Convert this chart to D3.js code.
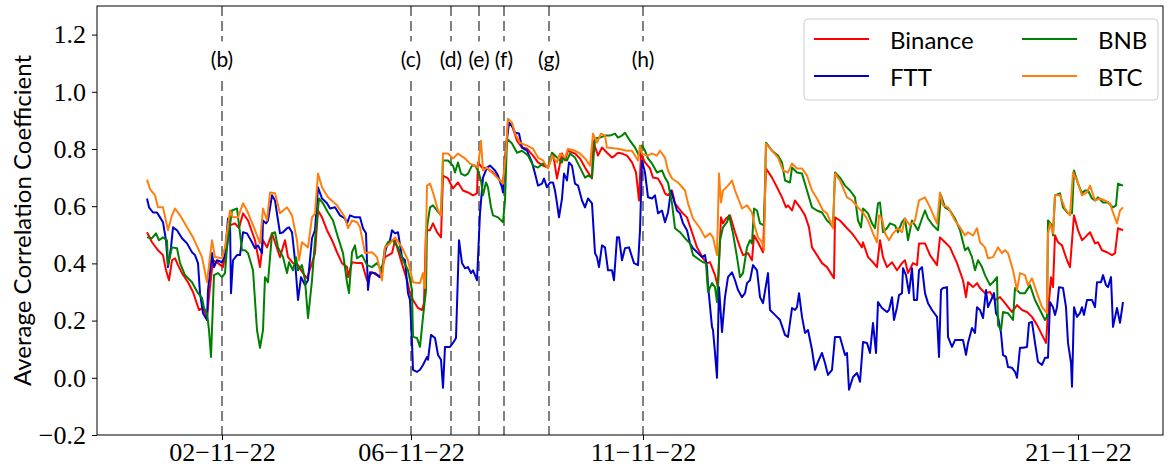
<!DOCTYPE html>
<html>
<head>
<meta charset="utf-8">
<script src="https://cdn.jsdelivr.net/npm/d3@7"></script>
<style>
  body { margin: 0; background: #fff; }
  svg { display: block; }
</style>
</head>
<body>
<div id="chart"></div>
<script>
// x is the hourly sample index (t = 0 is the first sample)
const tickIdx = [37.5, 132, 248, 465.5];
const tickLabels = ["02\u221211\u221222", "06\u221211\u221222", "11\u221211\u221222", "21\u221211\u221222"];
const eventIdx = [37.5, 132, 152, 166, 178.5, 201, 248];
const eventLabels = ["(b)", "(c)", "(d)", "(e)", "(f)", "(g)", "(h)"];
const yTicks = [-0.2, 0, 0.2, 0.4, 0.6, 0.8, 1.0, 1.2];
const seriesNames = ["Binance", "FTT", "BNB", "BTC"];

const binance = [[0,.509],[2.5,.474],[5.5,.446],[8,.429],[9.5,.376],[11,.341],[12.5,.411],[14,.418],[15.5,.394],[17.5,.366],[20.5,.334],[23,.3],[26,.237],[28,.244],[30,.213],[31.5,.317],[33,.411],[35.5,.401],[38,.387],[39.5,.439],[41.5,.533],[44,.54],[46,.523],[48,.575],[50.5,.55],[54,.481],[56.5,.387],[58,.481],[60,.456],[62.5,.505],[65,.453],[66.5,.422],[69,.481],[70.5,.422],[73,.401],[75.5,.394],[78,.366],[80,.348],[82.5,.401],[84,.436],[85.5,.585],[87.5,.561],[90,.516],[92.5,.481],[95,.439],[97.5,.401],[100,.387],[100.5,.352],[102.5,.404],[105,.401],[107.5,.401],[110,.341],[112.5,.369],[116.5,.352],[119,.422],[122.5,.436],[124,.481],[126.5,.422],[130,.341],[131.5,.296],[133,.272],[135.5,.244],[137.5,.237],[138.5,.261],[139.5,.516],[141.5,.516],[143,.54],[145,.509],[147,.491],[148,.707],[150.5,.697],[153,.662],[155.5,.683],[158,.655],[160.5,.648],[163,.638],[165,.645],[165.5,.753],[167.5,.735],[170,.732],[173,.718],[176.5,.69],[178,.683],[179.5,.794],[180.5,.892],[182.5,.882],[185,.829],[187.5,.805],[190,.801],[193,.777],[195.5,.753],[198,.742],[200.5,.735],[203,.784],[205,.697],[207.5,.784],[209,.76],[210.5,.794],[214,.784],[216.5,.767],[219,.735],[222.5,.697],[223,.829],[225.5,.777],[227.5,.805],[230,.787],[232.5,.77],[234,.777],[235.5,.787],[237.5,.784],[240,.777],[242.5,.753],[244.5,.718],[246,.62],[247,.784],[249,.753],[251.5,.732],[253,.7],[255.5,.697],[257.5,.672],[259,.645],[260.5,.638],[262.5,.655],[264,.61],[267.5,.578],[270,.561],[272.5,.509],[275,.456],[278,.418],[280,.401],[281.5,.404],[284,.359],[285.5,.317],[287,.561],[288,.54],[289.5,.557],[291.5,.568],[294,.509],[296.5,.456],[298,.429],[300.5,.436],[302.5,.411],[303.5,.498],[305.5,.474],[308,.439],[309.5,.732],[312.5,.7],[315,.666],[317.5,.631],[319.5,.596],[320.5,.603],[322.5,.585],[324,.62],[326.5,.596],[329,.568],[331,.526],[332.5,.456],[335,.429],[337.5,.401],[340,.387],[342.5,.359],[343.5,.348],[344,.561],[346.5,.55],[350,.523],[352.5,.505],[355,.481],[357.5,.456],[358,.474],[360.5,.422],[363,.404],[365,.387],[366.5,.481],[368,.422],[370,.387],[372.5,.404],[375,.376],[377.5,.401],[379,.411],[380.5,.366],[383,.401],[385,.394],[386,.47],[389,.47],[391.5,.429],[395,.394],[396.5,.491],[399,.474],[401.5,.456],[405,.401],[408,.341],[409.5,.282],[410.5,.334],[413,.317],[415,.331],[416.5,.314],[419,.296],[421.5,.3],[424,.272],[426.5,.282],[429,.261],[432.5,.23],[435,.254],[437.5,.237],[440,.23],[442.5,.213],[445,.185],[447.5,.15],[449.5,.122],[450.5,.226],[452,.352],[453,.317],[454,.498],[455.5,.474],[457.5,.463],[460,.411],[461.5,.387],[463.5,.568],[465.5,.516],[467.5,.481],[469,.491],[471.5,.509],[474,.47],[475.5,.474],[477.5,.446],[480,.439],[482.5,.429],[484,.436],[485.5,.523],[488,.516]];

const ftt = [[0,.627],[1,.596],[3,.578],[5,.578],[6.5,.561],[8,.544],[9.5,.481],[10.5,.387],[12,.456],[13,.526],[15,.516],[17.5,.488],[20,.47],[22.5,.439],[24,.429],[25.5,.401],[26.5,.296],[28,.226],[30,.202],[30.5,.307],[32.5,.436],[33.5,.387],[35,.411],[37.5,.404],[39,.429],[40.5,.557],[41.5,.55],[42,.296],[43,.411],[45,.429],[46.5,.429],[48,.509],[50,.505],[52.5,.474],[54,.453],[55.5,.463],[57.5,.436],[58,.55],[59.5,.54],[60.5,.55],[62.5,.638],[64,.62],[66.5,.505],[68,.509],[70,.523],[71,.526],[72.5,.509],[74,.411],[75.5,.272],[77,.352],[79,.324],[80.5,.341],[82.5,.488],[84,.516],[85.5,.666],[87.5,.627],[90,.61],[91.5,.592],[94,.596],[96.5,.568],[99,.557],[100,.54],[101.5,.568],[104,.561],[106.5,.561],[108,.523],[109.5,.505],[110.5,.307],[111.5,.369],[114,.366],[116.5,.352],[118,.401],[119.5,.453],[121.5,.481],[122.5,.516],[124,.505],[125.5,.509],[127.5,.422],[129,.411],[130.5,.296],[131.5,.272],[132.5,.122],[133,.028],[135,.021],[136.5,.028],[138,.045],[140,.073],[140.5,.063],[142,.15],[144,.139],[145.5,.08],[147,.063],[148,-.035],[149,.108],[151.5,.108],[153,.122],[154.5,.139],[156,.481],[157.5,.401],[159,.383],[160.5,.387],[162,.366],[163,.376],[164,.359],[165,.341],[166.5,.575],[168,.7],[170,.735],[171.5,.742],[174,.725],[175.5,.707],[177.5,.666],[178,.648],[179.5,.805],[181,.892],[183,.875],[184,.857],[186,.854],[187.5,.805],[190,.794],[192.5,.753],[194,.714],[195.5,.672],[197.5,.679],[198.5,.697],[200,.666],[201.5,.683],[203,.683],[204,.655],[205,.61],[206,.561],[207.5,.627],[208.5,.714],[210,.69],[211,.753],[212.5,.742],[214,.679],[215.5,.672],[217.5,.62],[219,.596],[220.5,.627],[222.5,.61],[224,.436],[225,.422],[226,.387],[227.5,.463],[229,.456],[230.5,.376],[232.5,.376],[233.5,.341],[235,.491],[236,.491],[237.5,.411],[239,.453],[241,.456],[243.5,.401],[245.5,.394],[246.5,.516],[247.5,.76],[249,.718],[250.5,.631],[252.5,.627],[254,.638],[255.5,.575],[257.5,.585],[259,.544],[260.5,.578],[262,.655],[263,.631],[265,.585],[266.5,.575],[268,.54],[270,.516],[271.5,.47],[273,.453],[275.5,.436],[277.5,.422],[279,.429],[280,.387],[280.5,.324],[282.5,.178],[283,.167],[284,.087],[285,0],[286,.317],[287.5,.16],[289,.282],[290.5,.352],[292.5,.369],[294,.341],[295.5,.307],[297.5,.282],[299,.296],[300,.331],[301.5,.341],[303,.394],[305,.376],[306.5,.282],[308,.261],[310.5,.366],[311.5,.237],[314,.22],[316.5,.202],[319,.15],[320.5,.143],[322.5,.244],[324,.237],[325,.247],[326,.296],[327.5,.213],[329,.157],[330.5,.167],[332.5,.098],[334,.028],[335.5,.056],[337.5,.087],[339,.052],[340.5,.01],[342.5,.028],[344,.143],[346.5,.143],[349,.08],[350,.087],[351,-.042],[353,.003],[355,.017],[356.5,-.014],[358,.125],[360,.122],[361.5,.087],[363,.192],[364.5,.087],[365.5,.265],[367.5,.244],[370,.23],[371,.237],[372.5,.282],[373.5,.202],[375,.247],[376,.289],[377.5,.296],[378,.383],[379.5,.359],[381,.296],[382.5,.383],[383.5,.272],[385,.272],[386,.376],[387.5,.387],[389,.296],[390.5,.261],[392.5,.237],[395,.213],[396,.073],[397,.307],[398,.314],[400,.317],[400.5,.143],[402.5,.108],[404,.132],[406.5,.132],[408,.132],[409.5,.08],[410.5,.122],[412.5,.174],[414,.157],[415,.247],[416.5,.237],[418,.209],[419.5,.307],[420.5,.247],[422.5,.279],[423.5,.296],[424.5,.226],[425.5,.213],[427,.157],[428,.08],[429.5,.073],[430.5,.038],[432.5,.035],[434,.021],[435,0],[436.5,.105],[438,.105],[440,.108],[441,.192],[442.5,.195],[444,.122],[445.5,.056],[447.5,.045],[449,.07],[450.5,.07],[451.5,.265],[453,.247],[454,.22],[455,.247],[456,.317],[458,.314],[459.5,.247],[460.5,.122],[462,.052],[462.5,-.031],[463.5,.247],[465,.213],[466.5,.226],[467.5,.247],[468.5,.22],[470,.272],[472.5,.272],[474,.247],[475,.334],[477,.334],[478,.359],[479.5,.324],[480.5,.317],[482,.352],[483,.178],[485,.244],[486.5,.192],[488,.265]];

const bnb = [[0,.491],[2.5,.488],[4.5,.505],[6,.481],[8,.491],[10,.481],[10.5,.394],[12.5,.456],[15,.453],[16.5,.401],[19,.359],[22.5,.334],[25.5,.296],[27.5,.279],[28.5,.244],[30,.226],[31,.167],[32,.073],[33.5,.359],[35.5,.366],[37.5,.352],[39,.366],[40,.456],[42.5,.585],[45,.592],[46.5,.505],[47.5,.446],[49,.446],[50.5,.436],[53,.376],[55,.167],[56.5,.105],[58,.167],[59,.352],[60.5,.334],[62.5,.505],[64,.509],[65.5,.456],[67.5,.429],[68,.422],[70,.366],[71,.404],[73,.376],[74.5,.422],[75.5,.376],[77.5,.394],[79,.341],[80.5,.209],[82.5,.341],[84,.481],[86,.627],[88,.61],[90.5,.578],[93,.55],[95.5,.491],[98,.436],[100,.334],[101,.296],[102.5,.439],[104,.463],[105,.418],[107.5,.429],[110,.394],[112.5,.387],[115,.401],[117.5,.376],[119,.456],[120.5,.474],[123,.481],[125.5,.456],[128,.411],[130.5,.376],[132.5,.307],[133,.143],[135,.139],[136.5,.108],[138,.213],[139.5,.307],[140,.526],[141.5,.596],[143,.603],[145,.585],[147,.568],[148,.76],[150.5,.76],[153,.742],[154,.718],[155.5,.753],[157,.714],[159,.707],[160.5,.714],[162.5,.742],[164,.742],[165.5,.725],[167,.69],[168,.638],[169.5,.683],[170.5,.666],[172,.596],[173,.568],[175.5,.561],[178,.544],[179,.62],[180,.836],[182.5,.819],[185,.787],[187.5,.794],[190.5,.777],[193,.742],[195.5,.735],[198,.749],[200.5,.735],[202.5,.787],[205,.77],[207.5,.753],[208,.77],[210,.76],[211.5,.784],[214,.77],[216.5,.735],[219,.7],[220.5,.707],[222.5,.7],[224,.836],[226.5,.84],[229,.847],[231.5,.847],[234,.854],[235.5,.84],[237.5,.847],[239,.857],[241.5,.829],[244,.805],[246,.777],[247.5,.812],[249,.794],[250.5,.767],[252.5,.749],[255,.718],[257.5,.725],[259,.7],[260.5,.683],[262.5,.61],[264,.523],[266.5,.509],[269,.488],[271.5,.47],[273,.429],[276.5,.411],[278,.404],[279.5,.401],[280.5,.3],[282.5,.331],[284,.317],[285,.265],[286.5,.481],[288,.526],[290,.544],[291,.568],[293,.505],[295,.422],[296.5,.352],[298,.366],[300,.456],[301.5,.481],[302.5,.47],[303.5,.592],[305,.585],[306.5,.54],[308.5,.533],[309.5,.822],[312.5,.794],[315.5,.777],[317.5,.753],[319,.69],[321.5,.683],[322.5,.735],[325,.718],[327.5,.714],[330,.655],[332.5,.596],[335,.585],[337.5,.578],[340,.55],[341.5,.54],[343,.526],[344,.718],[346.5,.7],[349,.672],[351.5,.655],[354,.631],[355.5,.55],[357,.526],[358,.592],[360.5,.575],[362.5,.54],[364,.523],[365.5,.61],[366.5,.613],[368,.509],[370,.523],[371.5,.54],[374,.533],[375.5,.509],[377.5,.544],[379,.557],[380.5,.481],[382.5,.55],[384,.533],[385.5,.516],[387.5,.557],[389,.585],[390.5,.557],[393,.533],[395.5,.516],[397,.638],[399,.596],[401.5,.585],[404,.557],[406.5,.516],[409,.446],[410.5,.456],[412.5,.422],[414,.376],[415.5,.411],[417.5,.387],[419,.359],[421.5,.324],[423,.334],[425,.352],[425.5,.185],[427,.167],[428,.23],[430.5,.226],[433,.202],[434,.314],[436.5,.296],[439,.296],[441.5,.324],[444,.272],[446.5,.237],[449,.202],[450,.213],[450.5,.55],[452.5,.533],[453,.498],[454,.638],[456.5,.645],[458,.596],[460.5,.575],[462.5,.575],[463.5,.725],[465.5,.679],[467.5,.645],[469,.655],[470.5,.655],[472.5,.627],[474,.62],[475.5,.631],[478,.613],[480.5,.613],[483,.596],[484.5,.603],[485.5,.679],[488,.672]];

const btc = [[0,.693],[1.5,.66],[4,.638],[5.5,.596],[8,.596],[10.5,.516],[12.5,.568],[14,.592],[16.5,.568],[20,.526],[23,.491],[27.5,.422],[30,.334],[32.5,.481],[34,.422],[37.5,.418],[39,.456],[41.5,.585],[43,.561],[45.5,.561],[48,.61],[50,.585],[54,.516],[56.5,.47],[58,.592],[60,.55],[61.5,.648],[64,.645],[66.5,.575],[70,.596],[72.5,.568],[75,.481],[76,.411],[77.5,.474],[80.5,.456],[82.5,.561],[84,.575],[85.5,.714],[87.5,.666],[90.5,.631],[95,.603],[99,.561],[100.5,.523],[102.5,.55],[105,.544],[106.5,.526],[109,.436],[112.5,.439],[115,.422],[117.5,.341],[119,.456],[121.5,.47],[124,.491],[127.5,.456],[130.5,.411],[133,.334],[136.5,.331],[138,.366],[139,.314],[140,.672],[141.5,.679],[143,.648],[145.5,.585],[147,.568],[148,.784],[150.5,.784],[153,.767],[155.5,.784],[159,.767],[161.5,.749],[164,.742],[165.5,.735],[167,.829],[168,.725],[170,.735],[173,.714],[176.5,.69],[178,.679],[179.5,.794],[180.5,.906],[182.5,.892],[184,.854],[186.5,.822],[190,.812],[193,.801],[195.5,.77],[198,.76],[200.5,.732],[202.5,.777],[205,.753],[206.5,.784],[209,.77],[210.5,.801],[214,.794],[216.5,.784],[219,.767],[221.5,.742],[223,.854],[225,.822],[227,.854],[229,.847],[230,.805],[235.5,.801],[240,.794],[242.5,.794],[244,.777],[245.5,.76],[246.5,.812],[247.5,.784],[250,.777],[252.5,.784],[255,.777],[256.5,.794],[259,.77],[260.5,.725],[262.5,.697],[265.5,.683],[269,.655],[270.5,.61],[273,.557],[276.5,.523],[279,.491],[281.5,.505],[283,.491],[285,.429],[286,.714],[287,.613],[288,.655],[290.5,.672],[292.5,.69],[294,.655],[297.5,.592],[300,.603],[302.5,.578],[304,.526],[305.5,.491],[307.5,.474],[308.5,.446],[309.5,.819],[312.5,.794],[315.5,.77],[318,.725],[320.5,.718],[322.5,.749],[325,.732],[327.5,.732],[330,.707],[332.5,.655],[335,.627],[338,.585],[340,.575],[342.5,.533],[343,.523],[344,.714],[346.5,.69],[350,.631],[352.5,.62],[355.5,.596],[358,.578],[360.5,.55],[363,.505],[365,.474],[366,.568],[367.5,.557],[369,.505],[371,.481],[373,.505],[375.5,.523],[377.5,.509],[379,.557],[381.5,.533],[384,.55],[386,.62],[389,.631],[391.5,.596],[395,.54],[396.5,.648],[398,.603],[400.5,.596],[404,.55],[406.5,.526],[409,.498],[410.5,.509],[413,.498],[415,.523],[416.5,.474],[419,.456],[420.5,.418],[423,.422],[425.5,.456],[427.5,.436],[429,.446],[430.5,.436],[433,.376],[435,.307],[436.5,.366],[439,.359],[440.5,.324],[442.5,.348],[445,.296],[447.5,.247],[450,.226],[450.5,.505],[451.5,.54],[453,.505],[454,.638],[456.5,.638],[459,.592],[461.5,.568],[463,.718],[465,.69],[467.5,.638],[470,.648],[471.5,.672],[474,.62],[476.5,.627],[479,.62],[481.5,.61],[483,.578],[485,.54],[486.5,.585],[488,.596]];

const colors = { Binance: "#ff0000", FTT: "#0000cd", BNB: "#008000", BTC: "#ff7f0e" };

const width = 1167, height = 469;
const plotLeft = 97, plotRight = 1163, plotTop = 6, plotBottom = 435;

const svg = d3.select("#chart").append("svg")
  .attr("width", width)
  .attr("height", height);

const x = d3.scaleLinear().domain([-25, 508]).range([plotLeft, plotRight]);
const y = d3.scaleLinear().domain([-0.2, 1.3]).range([plotBottom, plotTop]);

const serifFont = "'Liberation Serif', 'DejaVu Serif', serif";
const sansFont = "Lato, 'DejaVu Sans', sans-serif";

// axes
const yAxis = svg.append("g")
  .attr("transform", `translate(${plotLeft},0)`)
  .call(d3.axisLeft(y).tickValues(yTicks).tickFormat(d3.format(".1f")).tickSize(5).tickPadding(6));
const xAxis = svg.append("g")
  .attr("transform", `translate(0,${plotBottom})`)
  .call(d3.axisBottom(x).tickValues(tickIdx).tickFormat((d, i) => tickLabels[i]).tickSize(5).tickPadding(3));

[yAxis, xAxis].forEach(g => {
  g.select(".domain").remove();
  g.selectAll(".tick line").attr("stroke", "#000").attr("stroke-width", 1);
  g.selectAll("text")
    .attr("fill", "#000")
    .style("font-family", serifFont)
    .style("font-size", "26px");
});

svg.append("text")
  .attr("transform", `translate(21,${(plotTop + plotBottom) / 2}) rotate(-90)`)
  .attr("text-anchor", "middle")
  .attr("dominant-baseline", "central")
  .style("font-family", sansFont)
  .style("font-size", "24px")
  .text("Average Correlation Coefficient");

// event lines
svg.append("g").selectAll("line")
  .data(eventIdx)
  .join("line")
  .attr("x1", d => x(d)).attr("x2", d => x(d))
  .attr("y1", plotTop).attr("y2", plotBottom)
  .attr("stroke", "#808080")
  .attr("stroke-width", 2)
  .attr("stroke-dasharray", "10,5");

// series
const line = d3.line().x(d => x(d[0])).y(d => y(d[1]));
const allSeries = [binance, ftt, bnb, btc];
svg.append("g").selectAll("path")
  .data(allSeries)
  .join("path")
  .attr("d", line)
  .attr("fill", "none")
  .attr("stroke", (d, i) => colors[seriesNames[i]])
  .attr("stroke-width", 2)
  .attr("stroke-linejoin", "round");

// event labels with white background
const evG = svg.append("g");
eventIdx.forEach((d, i) => {
  const g = evG.append("g");
  const t = g.append("text")
    .attr("x", x(d))
    .attr("y", y(1.115))
    .attr("text-anchor", "middle")
    .attr("dominant-baseline", "central")
    .style("font-family", sansFont)
    .style("font-size", "21px")
    .text(eventLabels[i]);
  const bb = t.node().getBBox();
  g.insert("rect", "text")
    .attr("x", bb.x - 2).attr("y", bb.y - 5)
    .attr("width", bb.width + 4).attr("height", bb.height + 10)
    .attr("fill", "#fff");
});

// frame
svg.append("rect")
  .attr("x", plotLeft).attr("y", plotTop)
  .attr("width", plotRight - plotLeft).attr("height", plotBottom - plotTop)
  .attr("fill", "none")
  .attr("stroke", "#000")
  .attr("stroke-width", 1);

// legend
const legend = svg.append("g");
legend.append("rect")
  .attr("x", 804).attr("y", 19)
  .attr("width", 354).attr("height", 81)
  .attr("rx", 4)
  .attr("fill", "#fff").attr("fill-opacity", 0.8)
  .attr("stroke", "#cccccc");
const legPos = [[814, 39], [814, 76], [1022, 39], [1022, 76]];
const legTextX = [890, 890, 1098, 1098];
seriesNames.forEach((name, i) => {
  const [lx, ly] = legPos[i];
  legend.append("line")
    .attr("x1", lx).attr("x2", lx + 55)
    .attr("y1", ly).attr("y2", ly)
    .attr("stroke", colors[name])
    .attr("stroke-width", 2);
  legend.append("text")
    .attr("x", legTextX[i])
    .attr("y", ly)
    .attr("dominant-baseline", "central")
    .style("font-family", sansFont)
    .style("font-size", "24px")
    .text(name);
});
</script>
</body>
</html>
